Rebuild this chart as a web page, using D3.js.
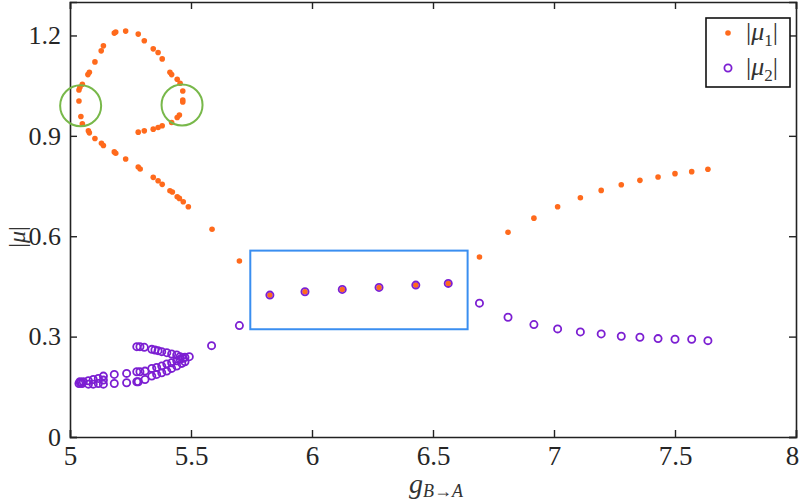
<!DOCTYPE html>
<html><head><meta charset="utf-8">
<script src="https://cdn.jsdelivr.net/npm/d3@7"></script>
<style>body{margin:0;background:#fff}svg{display:block}</style>
</head><body>
<svg id="c" width="800" height="502"></svg>
<script>
// ---- data ----
const xTicks = [5, 5.5, 6, 6.5, 7, 7.5, 8];
const yTicks = [0, 0.3, 0.6, 0.9, 1.2];
const xTickLabels = ["5", "5.5", "6", "6.5", "7", "7.5", "8"];
const yTickLabels = ["0", "0.3", "0.6", "0.9", "1.2"];

// |mu1| (orange dots)
const g1 = [5.037,5.041,5.051,5.074,5.080,5.103,5.129,5.138,5.183,5.189,5.230,5.282,5.307,5.344,5.364,5.381,5.413,5.420,5.443,5.455,5.466,5.466,5.466,5.452,5.443,5.420,5.381,5.364,5.344,5.307,5.282,
  5.037,5.045,5.051,5.076,5.080,5.103,5.130,5.138,5.183,5.189,5.230,5.282,5.290,5.344,5.364,5.381,5.413,5.423,5.443,5.452,5.468,5.489,
  5.587,5.700,
  5.826,5.971,6.125,6.277,6.429,6.563,
  6.692,6.810,6.917,7.015,7.109,7.195,7.278,7.355,7.430,7.500,7.569,7.636];
const mu1 = [1.037,1.045,1.054,1.083,1.090,1.121,1.154,1.169,1.207,1.210,1.213,1.204,1.184,1.160,1.149,1.130,1.090,1.083,1.069,1.057,1.034,1.007,1.001,0.962,0.955,0.940,0.930,0.925,0.920,0.915,0.911,
  1.004,0.958,0.936,0.915,0.909,0.892,0.878,0.871,0.852,0.848,0.831,0.807,0.801,0.776,0.766,0.755,0.736,0.732,0.718,0.713,0.703,0.688,
  0.621,0.526,
  0.424,0.434,0.441,0.447,0.454,0.459,
  0.538,0.612,0.654,0.688,0.715,0.737,0.754,0.767,0.777,0.787,0.793,0.800];

// |mu2| (purple circles)
const g2 = [5.276,5.289,5.307,5.338,5.351,5.364,5.379,5.400,5.420,5.441,5.455,5.468,5.493,
  5.289,5.310,5.338,5.358,5.379,5.400,5.420,5.441,5.455,5.475,
  5.282,5.310,5.338,5.358,5.379,5.400,5.420,5.441,5.462,5.475,
  5.276,5.276,5.234,5.234,5.183,5.183,5.138,5.138,5.138,5.117,5.117,5.096,5.096,5.076,5.076,5.055,5.050,5.044,5.037,5.041,
  5.585,5.700,
  5.826,5.971,6.125,6.277,6.429,6.563,
  6.692,6.810,6.917,7.015,7.109,7.195,7.278,7.355,7.430,7.500,7.569,7.636];
const mu2 = [0.270,0.270,0.268,0.262,0.260,0.258,0.255,0.252,0.248,0.245,0.240,0.235,0.240,
  0.195,0.197,0.205,0.208,0.212,0.218,0.222,0.228,0.232,0.238,
  0.165,0.172,0.182,0.187,0.192,0.197,0.205,0.212,0.220,0.225,
  0.195,0.165,0.190,0.162,0.187,0.160,0.182,0.170,0.158,0.175,0.160,0.172,0.158,0.168,0.158,0.165,0.160,0.162,0.160,0.165,
  0.273,0.333,
  0.424,0.434,0.441,0.447,0.454,0.459,
  0.400,0.358,0.336,0.323,0.314,0.308,0.301,0.298,0.294,0.292,0.292,0.288];

// annotations
const circleCenters = [[5.044, 0.990], [5.463, 0.992]];
const boxCorners = [[5.745, 0.557], [6.643, 0.322]];

// ---- drawing ----
const W = 800, H = 502;
const m = {left: 70, right: 4, top: 2, bottom: 65};
const svg = d3.select("#c");
const x = d3.scaleLinear().domain([5, 8]).range([m.left, W - m.right]);
const y = d3.scaleLinear().domain([0, 1.3]).range([H - m.bottom, m.top]);
const FONT = '"Liberation Serif"';
const orange = "#ff6a1c", purple = "#7c1fd2";

// axes with inward ticks
const tl = 7;
const axB = svg.append("g").attr("transform", `translate(0,${H - m.bottom})`)
  .call(d3.axisBottom(x).tickValues(xTicks).tickSize(-tl).tickPadding(9)
    .tickFormat((d, i) => xTickLabels[i]));
const axL = svg.append("g").attr("transform", `translate(${m.left},0)`)
  .call(d3.axisLeft(y).tickValues(yTicks).tickSize(-tl).tickPadding(9)
    .tickFormat((d, i) => yTickLabels[i]));
const axT = svg.append("g").attr("transform", `translate(0,${m.top})`)
  .call(d3.axisTop(x).tickValues(xTicks).tickSize(-tl).tickFormat(""));
const axR = svg.append("g").attr("transform", `translate(${W - m.right},0)`)
  .call(d3.axisRight(y).tickValues(yTicks).tickSize(-tl).tickFormat(""));
[axB, axL, axT, axR].forEach(a => {
  a.select(".domain").attr("stroke", "#222").attr("stroke-width", 1.6);
  a.selectAll(".tick line").attr("stroke", "#222").attr("stroke-width", 1.4);
  a.selectAll("text").style("font-family", FONT).style("font-size", "27px").attr("fill", "#262626");
});
axL.selectAll("text").style("font-size", "26px");
// keep the last x label inside the picture
axB.selectAll(".tick text").filter(d => d === 8).attr("dx", -4);

// data points
const d1 = g1.map((g, i) => [g, mu1[i]]);
const d2 = g2.map((g, i) => [g, mu2[i]]);
svg.append("g").selectAll("circle").data(d1).join("circle")
  .attr("cx", d => x(d[0])).attr("cy", d => y(d[1])).attr("r", 2.8).attr("fill", orange);
svg.append("g").selectAll("circle").data(d2).join("circle")
  .attr("cx", d => x(d[0])).attr("cy", d => y(d[1])).attr("r", 3.6)
  .attr("fill", "none").attr("stroke", purple).attr("stroke-width", 1.8);

// annotations
svg.append("g").selectAll("circle").data(circleCenters).join("circle")
  .attr("cx", d => x(d[0])).attr("cy", d => y(d[1])).attr("r", 20.5)
  .attr("fill", "none").attr("stroke", "#78b84a").attr("stroke-width", 2);
svg.append("rect")
  .attr("x", x(boxCorners[0][0])).attr("y", y(boxCorners[0][1]))
  .attr("width", x(boxCorners[1][0]) - x(boxCorners[0][0]))
  .attr("height", y(boxCorners[1][1]) - y(boxCorners[0][1]))
  .attr("fill", "none").attr("stroke", "#3a8ef0").attr("stroke-width", 2);

// axis labels
const xl = svg.append("text").attr("x", 436).attr("y", 493).attr("text-anchor", "middle")
  .style("font-family", FONT).attr("fill", "#333");
xl.append("tspan").style("font-style", "italic").style("font-size", "28px").text("g");
xl.append("tspan").style("font-size", "18px").attr("dy", 4).style("font-style", "italic").text("B→A");

const yl = svg.append("text").attr("transform", "translate(25,237) rotate(-90)")
  .attr("text-anchor", "middle").style("font-family", FONT).style("font-size", "24px").attr("fill", "#333");
yl.append("tspan").text("|");
yl.append("tspan").style("font-style", "italic").text("μ");
yl.append("tspan").text("|");

// legend
const lg = svg.append("g");
lg.append("rect").attr("x", 706).attr("y", 18).attr("width", 84).attr("height", 69)
  .attr("fill", "#fff").attr("stroke", "#111").attr("stroke-width", 1.6);
const items = [{c: orange, s: "1", fill: true, yy: 33}, {c: purple, s: "2", fill: false, yy: 68}];
items.forEach(it => {
  if (it.fill) lg.append("circle").attr("cx", 728).attr("cy", it.yy).attr("r", 2.8).attr("fill", it.c);
  else lg.append("circle").attr("cx", 728).attr("cy", it.yy).attr("r", 3.6).attr("fill", "none")
    .attr("stroke", it.c).attr("stroke-width", 1.8);
  const t = lg.append("text").attr("x", 746).attr("y", it.yy + 7).style("font-family", FONT)
    .style("font-size", "26px").attr("fill", "#333");
  t.append("tspan").text("|");
  t.append("tspan").style("font-style", "italic").text("μ");
  t.append("tspan").style("font-size", "17px").attr("dy", 6).text(it.s);
  t.append("tspan").attr("dy", -6).text("|");
});
</script>
</body></html>
